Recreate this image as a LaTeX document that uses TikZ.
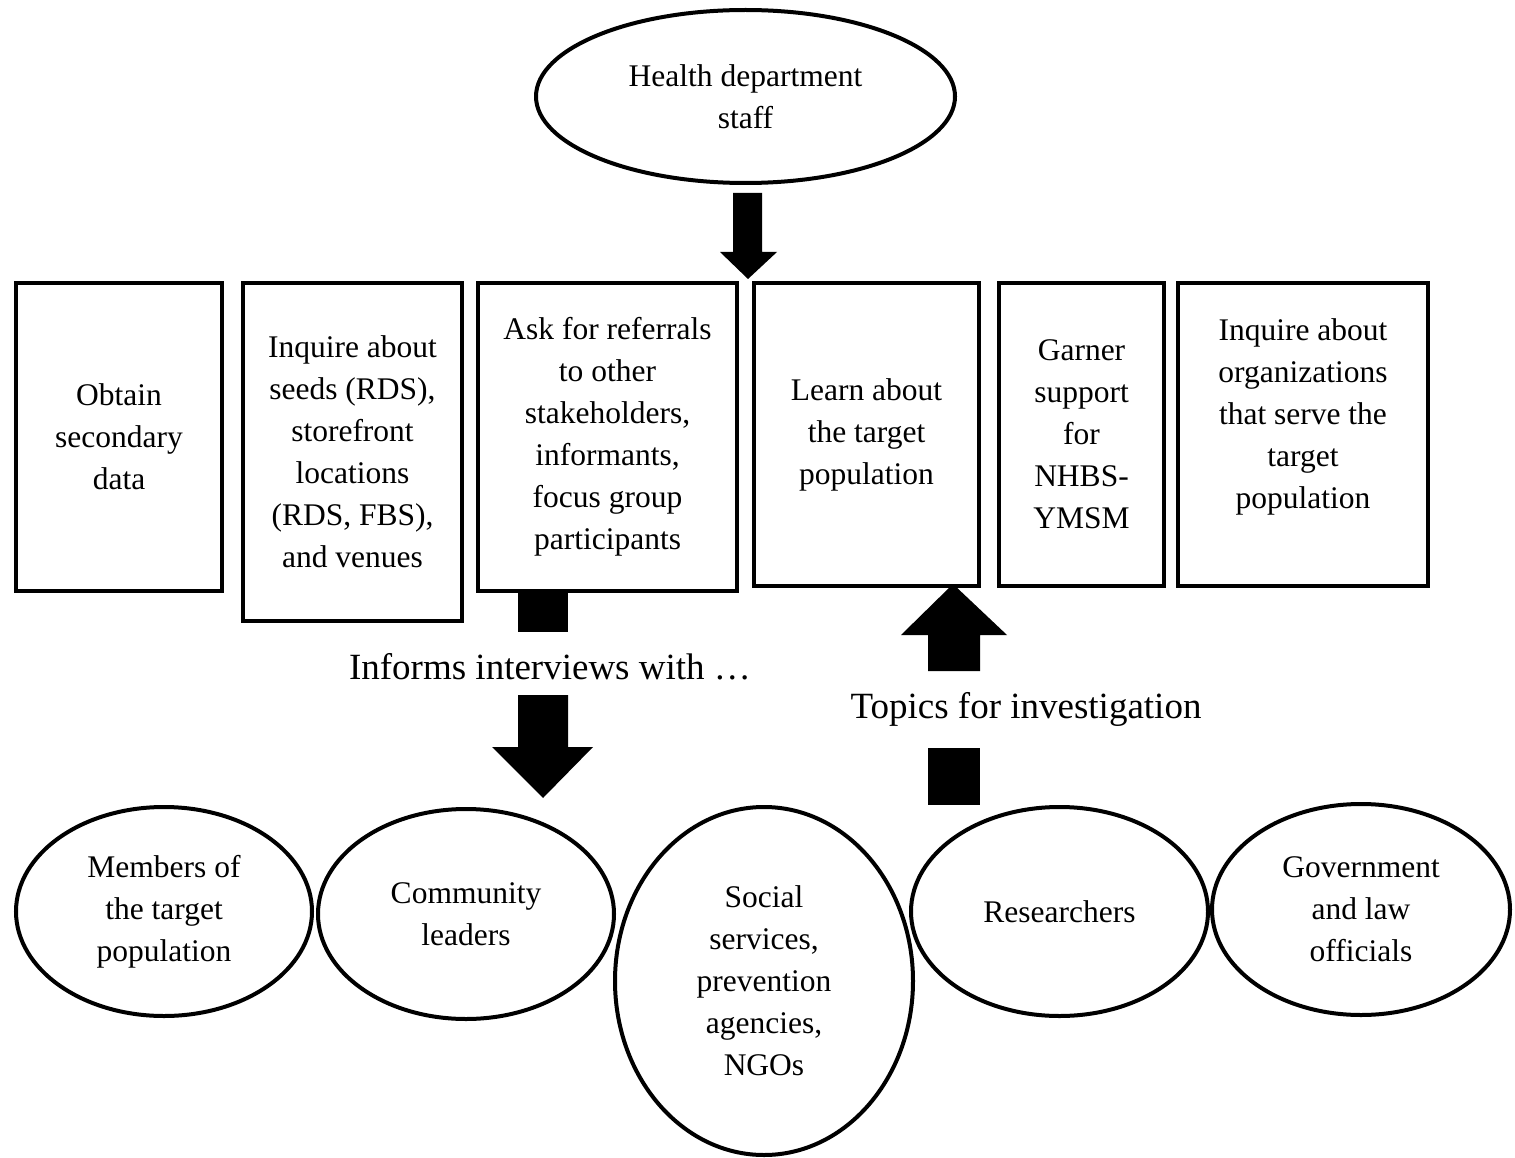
\documentclass[tikz,border=0pt]{standalone}
\usepackage{fontspec}
\setmainfont{Liberation Serif}
\usetikzlibrary{shapes.geometric}
\tikzset{
  base/.style={font=\fontsize{31.5}{42}\selectfont, align=center, inner sep=0pt, line width=4pt, draw=black},
  stepbox/.style={base, rectangle},
  oval/.style={base, ellipse},
  biglabel/.style={font=\fontsize{37}{44}\selectfont, inner sep=0pt, anchor=base},
  blockarrow/.style={fill=black},
}
\begin{document}
\begin{tikzpicture}[x=1pt,y=-1pt]
\useasboundingbox (0,0) rectangle (1515,1158);

% top ellipse
\node[oval, minimum width=419pt, minimum height=173pt] (hds) at (745.5,96.5) {Health department\\staff};

% boxes
\node[stepbox, minimum width=206pt, minimum height=308pt] (b1) at (119,437) {Obtain\\secondary\\data};
\node[stepbox, minimum width=219pt, minimum height=338pt] (b2) at (352.5,452) {Inquire about\\seeds (RDS),\\storefront\\locations\\(RDS, FBS),\\and venues};
\node[stepbox, minimum width=259pt, minimum height=308pt] (b3) at (607.5,437) {Ask for referrals\\to other\\stakeholders,\\informants,\\focus group\\participants};
\node[stepbox, minimum width=225pt, minimum height=303pt] (b4) at (866.5,434.5) {Learn about\\the target\\population};
\node[stepbox, minimum width=165pt, minimum height=303pt] (b5) at (1081.5,434.5) {Garner\\support\\for\\NHBS-\\YMSM};
\node[stepbox, minimum width=250pt, minimum height=303pt] (b6) at (1303,434.5) {Inquire about\\organizations\\that serve the\\target\\population\\\mbox{}};

% bottom ellipses
\node[oval, minimum width=296pt, minimum height=209pt] (e1) at (164,911.5) {Members of\\the target\\population};
\node[oval, minimum width=296pt, minimum height=210pt] (e2) at (466,914) {Community\\leaders};
\node[oval, minimum width=298pt, minimum height=348pt] (e3) at (764,981) {Social\\services,\\prevention\\agencies,\\NGOs};
\node[oval, minimum width=297pt, minimum height=209pt] (e4) at (1059.5,911.5) {Researchers};
\node[oval, minimum width=298pt, minimum height=211pt] (e5) at (1361,909.5) {Government\\and law\\officials};

% labels
\node[biglabel] (inf) at (550,679) {Informs interviews with …};
\node[biglabel] (tfi) at (1026,718) {Topics for investigation};

% block arrows
\coordinate (hdtip) at (748,279);
\fill[blockarrow] (733,193) -- (762,193) -- (762,252) -- (777,252) -- (hdtip) -- (720,252) -- (733,252) -- cycle;

\coordinate (inftip) at (543,798);
\fill[blockarrow] (518,591) rectangle (568,632);
\fill[blockarrow] (518,695) -- (568,695) -- (568,747) -- (593,747) -- (inftip) -- (492,747) -- (518,747) -- cycle;

\coordinate (tfitip) at (953,584);
\fill[blockarrow] (tfitip) -- (1007,635) -- (980,635) -- (980,671) -- (928,671) -- (928,635) -- (901,635) -- cycle;
\fill[blockarrow] (928,748) rectangle (980,805);
\end{tikzpicture}
\end{document}
